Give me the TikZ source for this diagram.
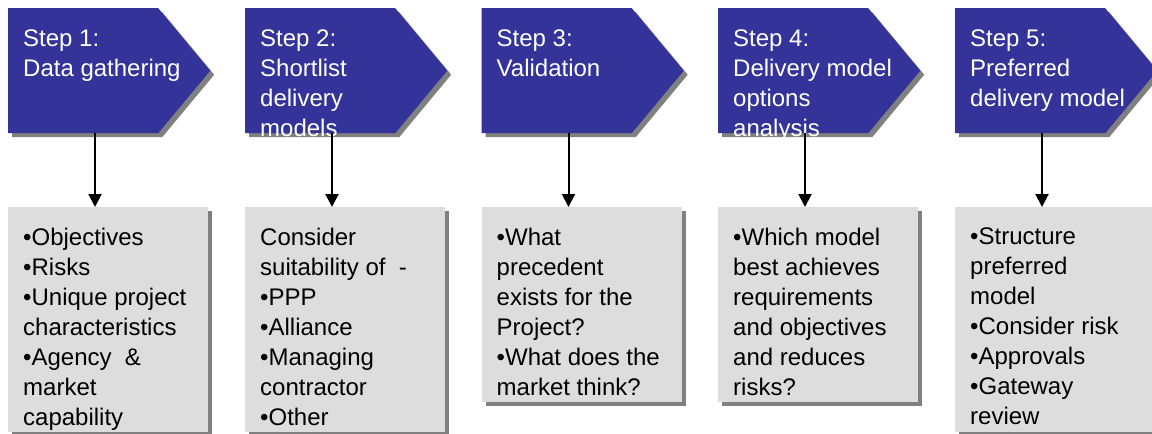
\documentclass[tikz,border=0pt]{standalone}
\usepackage{fontspec}
\setmainfont{Liberation Sans}
\usetikzlibrary{positioning, calc, arrows.meta, shapes.symbols, shadows}
\definecolor{stepblue}{RGB}{51,51,153}
\definecolor{shadowgray}{RGB}{128,128,128}
\definecolor{notegray}{RGB}{221,221,221}
\tikzset{
        step-shape/.style={
            signal, signal to=east, signal from=nowhere, signal pointer angle=100.5,
            fill=stepblue, minimum width=202pt, minimum height=125pt, inner sep=0pt,
            anchor=north west,
            drop shadow={shadow xshift=4pt, shadow yshift=-4pt, fill=shadowgray, opacity=1}
        },
        step-text/.style={
            text=white, align=left, anchor=north west, inner sep=0pt,
            font=\fontsize{24}{30}\selectfont, execute at begin node={\rule{0pt}{22pt}}
        },
        note-box/.style={
            fill=notegray, minimum width=200pt, inner sep=0pt, anchor=north west,
            drop shadow={shadow xshift=4pt, shadow yshift=-4pt, fill=shadowgray, opacity=1}
        },
        note-text/.style={
            text=black, align=left, anchor=north west, inner sep=0pt,
            font=\fontsize{24}{30}\selectfont, execute at begin node={\rule{0pt}{22pt}}
        },
        flow-arrow/.style={
            line width=2pt, -{Triangle[length=13pt, width=13pt]}
        },
}

\begin{document}
\begin{tikzpicture}[x=1pt, y=1pt]

        \useasboundingbox (0,0) rectangle (1152,-434);

        %DRAW STEPS (first one at a coordinate, the rest relative to it)
        \node [step-shape]   (S1)   at (8,-8)                      {};
        \node [step-shape]   (S2)   at ($(S1.north west)+(237,0)$) {};
        \node [step-shape]   (S3)   at ($(S2.north west)+(236.5,0)$) {};
        \node [step-shape]   (S4)   at ($(S3.north west)+(236.5,0)$) {};
        \node [step-shape]   (S5)   at ($(S4.north west)+(237,0)$) {};

        \node [step-text]    (T1)   at ($(S1.north west)+(15,-22)$) {Step 1:\\Data gathering};
        \node [step-text]    (T2)   at ($(S2.north west)+(15,-22)$) {Step 2:\\Shortlist\\delivery\\models};
        \node [step-text]    (T3)   at ($(S3.north west)+(15,-22)$) {Step 3:\\Validation};
        \node [step-text]    (T4)   at ($(S4.north west)+(15,-22)$) {Step 4:\\Delivery model\\options\\analysis};
        \node [step-text]    (T5)   at ($(S5.north west)+(15,-22)$) {Step 5:\\Preferred\\delivery model};

        %DRAW NOTES (below each step)
        \node [note-box, minimum height=225pt]   (N1)   at ($(S1.north west)+(0,-199)$) {};
        \node [note-box, minimum height=225pt]   (N2)   at ($(S2.north west)+(0,-199)$) {};
        \node [note-box, minimum height=195pt]   (N3)   at ($(S3.north west)+(0,-199)$) {};
        \node [note-box, minimum height=195pt]   (N4)   at ($(S4.north west)+(0,-199)$) {};
        \node [note-box, minimum height=225pt]   (N5)   at ($(S5.north west)+(0,-199)$) {};

        \node [note-text]    (L1)   at ($(N1.north west)+(15,-21)$) {•Objectives\\•Risks\\•Unique project\\characteristics\\•Agency\ \ \&\\market\\capability};
        \node [note-text]    (L2)   at ($(N2.north west)+(15,-21)$) {Consider\\suitability of\ \ -\\•PPP\\•Alliance\\•Managing\\contractor\\•Other};
        \node [note-text]    (L3)   at ($(N3.north west)+(15,-21)$) {•What\\precedent\\exists for the\\Project?\\•What does the\\market think?};
        \node [note-text]    (L4)   at ($(N4.north west)+(15,-21)$) {•Which model\\best achieves\\requirements\\and objectives\\and reduces\\risks?};
        \node [note-text]    (L5)   at ($(N5.north west)+(15,-21)$) {•Structure\\preferred\\model\\•Consider risk\\•Approvals\\•Gateway\\review};

        % CONNECT STEPS TO NOTES
        \draw [flow-arrow] ([xshift=87pt]S1.south west) -- ([xshift=87pt]N1.north west);
        \draw [flow-arrow] ([xshift=87pt]S2.south west) -- ([xshift=87pt]N2.north west);
        \draw [flow-arrow] ([xshift=87pt]S3.south west) -- ([xshift=87pt]N3.north west);
        \draw [flow-arrow] ([xshift=87pt]S4.south west) -- ([xshift=87pt]N4.north west);
        \draw [flow-arrow] ([xshift=87pt]S5.south west) -- ([xshift=87pt]N5.north west);

    \end{tikzpicture}
\end{document}
